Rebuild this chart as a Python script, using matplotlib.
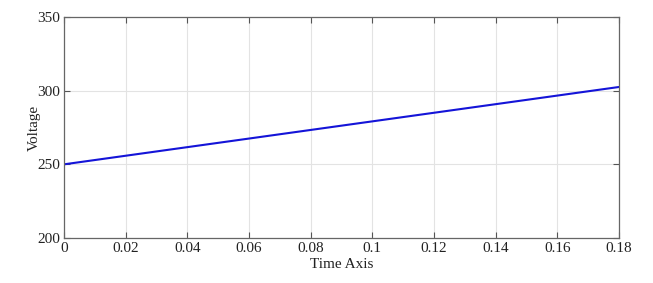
import matplotlib
matplotlib.use("Agg")
import matplotlib.pyplot as plt

# values
time_s = [0.0, 0.18]
voltage = [250.0, 302.5]
x_ticks = [0, 0.02, 0.04, 0.06, 0.08, 0.1, 0.12, 0.14, 0.16, 0.18]
x_labels = ["0", "0.02", "0.04", "0.06", "0.08", "0.1", "0.12", "0.14", "0.16", "0.18"]
y_ticks = [200, 250, 300, 350]

plt.rcParams['font.family'] = ['Liberation Serif', 'DejaVu Serif']

fig = plt.figure(figsize=(6.53, 2.83), dpi=100)
ax = fig.add_axes([64 / 653, 1 - 238 / 283, (619 - 64) / 653, (238 - 17) / 283])

ax.plot(time_s, voltage, color='#1414d8', linewidth=1.5)

ax.set_xlim(0, 0.18)
ax.set_ylim(200, 350)
ax.set_xticks(x_ticks)
ax.set_xticklabels(x_labels)
ax.set_yticks(y_ticks)
ax.grid(True, color='#e3e3e3', linewidth=0.8)
ax.tick_params(direction='in', top=True, right=True, labelsize=11,
               color='#555555', labelcolor='#222222', length=4, pad=3)
for s in ax.spines.values():
    s.set_color('#666666')
    s.set_linewidth(0.9)

ax.set_xlabel("Time Axis", fontsize=11, labelpad=2, color='#222222')
ax.set_ylabel("Voltage", fontsize=11, labelpad=-3, color='#222222')

fig.savefig("out.png", dpi=100)
